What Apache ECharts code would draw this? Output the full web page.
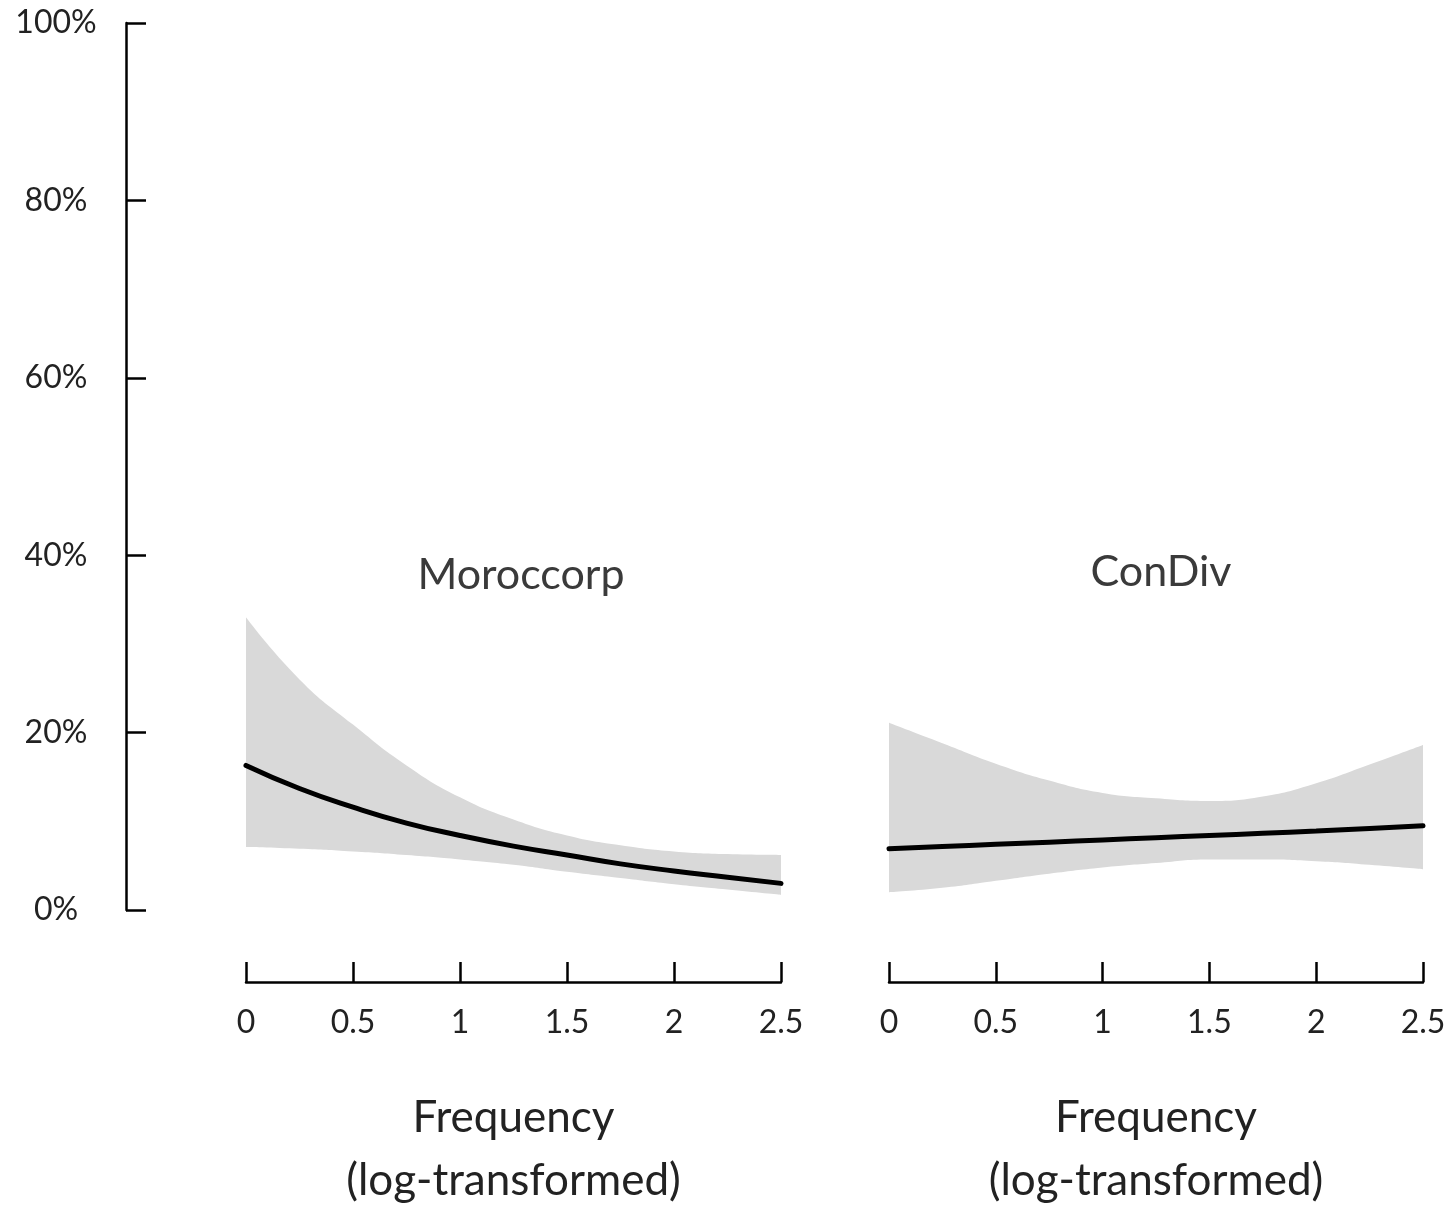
<!DOCTYPE html>
<html>
<head>
<meta charset="utf-8">
<script src="https://cdn.jsdelivr.net/npm/echarts@6/dist/echarts.min.js"></script>
<style>
html,body{margin:0;padding:0;background:#fff;}
#c{width:1452px;height:1209px;}
</style>
</head>
<body>
<div id="c"></div>
<script>
// ---- data ----
var xVals = ['0', '0.25', '0.5', '0.75', '1', '1.25', '1.5', '1.75', '2', '2.25', '2.5'];
var panelNames = ['Moroccorp', 'ConDiv'];
var yTicks = [0, 20, 40, 60, 80, 100];
var xAxisTitle = 'Frequency\n(log-transformed)';

// Moroccorp (percent)
var moroFit   = [16.3, 13.7, 11.6, 9.8, 8.4, 7.2, 6.2, 5.2, 4.4, 3.7, 3.0];
var moroUpper = [33.0, 26.0, 20.9, 16.3, 12.7, 10.2, 8.4, 7.3, 6.6, 6.3, 6.2];
var moroLower = [7.1, 6.9, 6.6, 6.2, 5.7, 5.1, 4.3, 3.6, 2.9, 2.3, 1.7];

// ConDiv (percent)
var condFit   = [6.9, 7.15, 7.4, 7.65, 7.9, 8.15, 8.4, 8.65, 8.9, 9.2, 9.5];
var condUpper = [21.1, 18.8, 16.5, 14.6, 13.2, 12.6, 12.3, 12.8, 14.3, 16.4, 18.6];
var condLower = [2.0, 2.5, 3.3, 4.1, 4.8, 5.3, 5.7, 5.7, 5.5, 5.1, 4.6];

// ---- chart ----
var FONT = 'Lato';
function diff(up, lo) { return up.map(function (u, i) { return +(u - lo[i]).toFixed(3); }); }

var grids = [
  { left: 246, width: 535, top: 23, height: 887, outerBoundsMode: 'none', containLabel: false },
  { left: 889, width: 534, top: 23, height: 887, outerBoundsMode: 'none', containLabel: false }
];

function makeX(idx) {
  return {
    type: 'category', gridIndex: idx, data: xVals, boundaryGap: false,
    position: 'bottom', offset: 72,
    axisLine: { show: true, onZero: false, lineStyle: { color: '#000', width: 2.5 } },
    axisTick: { show: true, inside: true, length: 20, interval: 1, alignWithLabel: true,
      lineStyle: { color: '#000', width: 2.5 } },
    splitLine: { show: false },
    axisLabel: { color: '#222', fontFamily: FONT, fontWeight: 'normal', fontSize: 32, margin: 25, interval: 1 },
    name: xAxisTitle, nameLocation: 'middle', nameGap: 104,
    nameTextStyle: { color: '#222', fontFamily: FONT, fontWeight: 'normal', fontSize: 44, lineHeight: 63 }
  };
}

var yAxes = [
  {
    type: 'value', gridIndex: 0, min: 0, max: 100, interval: 20, position: 'left', offset: 120,
    axisLine: { show: true, onZero: false, lineStyle: { color: '#000', width: 2.5 } },
    axisTick: { show: true, inside: true, length: 20, lineStyle: { color: '#000', width: 2.5 } },
    splitLine: { show: false },
    axisLabel: { color: '#222', fontFamily: FONT, fontWeight: 'normal', fontSize: 32, margin: 70, align: 'center',
      padding: [6, 0, 0, 0], formatter: '{value}%' }
  },
  {
    type: 'value', gridIndex: 1, min: 0, max: 100, interval: 20, show: false,
    splitLine: { show: false }
  }
];

function bandSeries(idx, up, lo, fit, stackName) {
  return [
    { type: 'line', xAxisIndex: idx, yAxisIndex: idx, stack: stackName, data: lo,
      smooth: 0.5, symbol: 'none', lineStyle: { width: 0, opacity: 0 }, silent: true, z: 1 },
    { type: 'line', xAxisIndex: idx, yAxisIndex: idx, stack: stackName, data: diff(up, lo),
      smooth: 0.5, symbol: 'none', lineStyle: { width: 0, opacity: 0 },
      areaStyle: { color: '#d9d9d9', opacity: 1 }, silent: true, z: 1 },
    { type: 'line', xAxisIndex: idx, yAxisIndex: idx, data: fit,
      smooth: 0.5, symbol: 'none', lineStyle: { color: '#000', width: 5, cap: 'round' }, z: 3 }
  ];
}

var option = {
  animation: false,
  backgroundColor: '#fff',
  grid: grids,
  xAxis: [makeX(0), makeX(1)],
  yAxis: yAxes,
  title: [
    { text: panelNames[0], left: 516, top: 549, textAlign: 'center',
      textStyle: { color: '#3a3a3a', fontFamily: FONT, fontSize: 43, fontWeight: 'normal' } },
    { text: panelNames[1], left: 1156, top: 546, textAlign: 'center',
      textStyle: { color: '#3a3a3a', fontFamily: FONT, fontSize: 43, fontWeight: 'normal' } }
  ],
  series: [].concat(
    bandSeries(0, moroUpper, moroLower, moroFit, 'm'),
    bandSeries(1, condUpper, condLower, condFit, 'c')
  )
};

var chart = echarts.init(document.getElementById('c'), null, { renderer: 'canvas' });
chart.setOption(option);
</script>
</body>
</html>
